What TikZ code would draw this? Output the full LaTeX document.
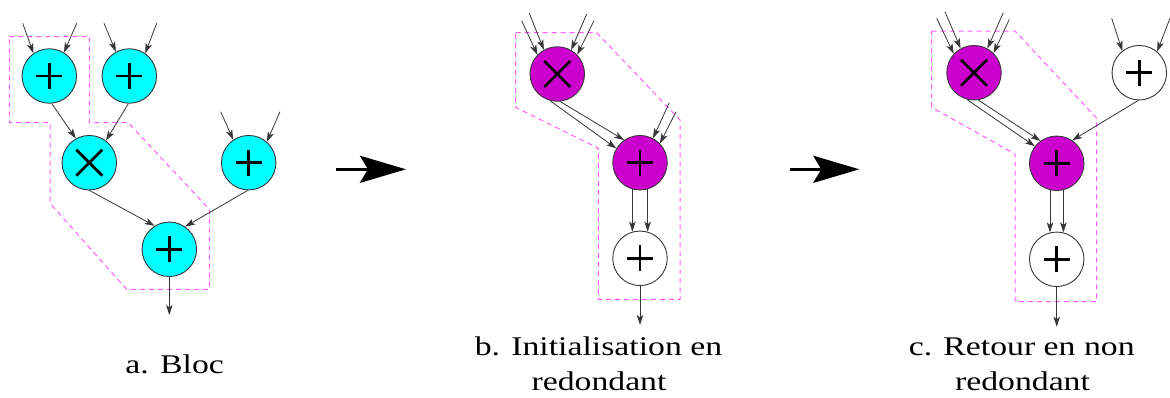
\documentclass[tikz,border=0pt]{standalone}
\usepackage{fontspec}
\setmainfont{Liberation Serif}[FakeStretch=1.25]
\usetikzlibrary{arrows.meta}
\definecolor{cyanop}{RGB}{0,255,255}
\definecolor{magop}{RGB}{204,0,204}
\definecolor{dashpink}{RGB}{255,90,255}
\definecolor{edgegray}{RGB}{55,55,55}
\tikzset{
  op/.style={circle, draw=edgegray, line width=0.9pt, minimum size=54.5pt, inner sep=0pt},
  plusop/.style={op, path picture={\draw[line width=2.7pt, black]
      ([xshift=-13pt]path picture bounding box.center) -- ([xshift=13pt]path picture bounding box.center)
      ([yshift=-13pt]path picture bounding box.center) -- ([yshift=13pt]path picture bounding box.center);}},
  timesop/.style={op, path picture={\draw[line width=2.7pt, black]
      ([shift={(-13pt,-13pt)}]path picture bounding box.center) -- ([shift={(13pt,13pt)}]path picture bounding box.center)
      ([shift={(-13pt,13pt)}]path picture bounding box.center) -- ([shift={(13pt,-13pt)}]path picture bounding box.center);}},
  conn/.style={draw=edgegray, line width=0.8pt, -{Stealth[length=10pt,width=6.5pt,inset=2.5pt]}},
  region/.style={draw=dashpink, line width=1pt, dash pattern=on 5pt off 4pt},
  bigarrow/.style={line width=3.3pt, -{Stealth[length=46pt,width=27pt,inset=8pt]}},
  lbl/.style={font=\fontsize{27}{35}\selectfont, anchor=base, inner sep=0pt},
}
\begin{document}
\begin{tikzpicture}[x=1pt,y=-1pt]
\useasboundingbox (0,0) rectangle (1170,397);
% dashed regions
\draw[region] (9.3,36.7) -- (89.3,36.7) -- (89.3,122.7) -- (128.3,122.7) -- (209.3,209.3) -- (209.3,289.3) -- (126.7,289.3) -- (50,203.3) -- (50,122.7) -- (9.3,122.7) -- cycle;
\draw[region] (515.7,32.7) -- (596.7,32.7) -- (680,120) -- (680,299.3) -- (598.3,299.3) -- (598.3,148.3) -- (515.7,107.3) -- cycle;
\draw[region] (931.7,31) -- (1015,31) -- (1096.7,118.3) -- (1096.7,301.7) -- (1015,301.7) -- (1015,154) -- (931.7,107.3) -- cycle;
% panel a
\node[plusop, fill=cyanop] (a1) at (49.3,76) {};
\node[plusop, fill=cyanop] (a2) at (129.3,76) {};
\node[timesop, fill=cyanop] (a3) at (89.3,162.7) {};
\node[plusop, fill=cyanop] (a4) at (248.7,162.7) {};
\node[plusop, fill=cyanop] (a5) at (169.3,249.3) {};
\coordinate (a1l) at (22.7,23.3);
\coordinate (a1r) at (76.7,23.3);
\coordinate (a2l) at (104,23.3);
\coordinate (a2r) at (156.7,23.3);
\coordinate (a4l) at (220.7,111.7);
\coordinate (a4r) at (280,111.7);
\coordinate (aout) at (169.3,315);
\draw[conn] (a1l) -- (a1.125);
\draw[conn] (a1r) -- (a1.58);
\draw[conn] (a2l) -- (a2.119);
\draw[conn] (a2r) -- (a2.55);
\draw[conn] (a4l) -- (a4.124);
\draw[conn] (a4r) -- (a4.49);
\draw[conn] (a1.-85) -- (a3.119);
\draw[conn] (a2.-92) -- (a3.53);
\draw[conn] (a3.-90) -- (a5.122);
\draw[conn] (a4.-92) -- (a5.55);
\draw[conn] (a5.-90) -- (aout);
% panel b
\node[timesop, fill=magop] (b1) at (557.3,74) {};
\node[plusop, fill=magop] (b2) at (640,162.7) {};
\node[plusop, fill=white] (b3) at (640,258.3) {};
\coordinate (b1la) at (521.7,20.7);
\coordinate (b1lb) at (529.3,13.3);
\coordinate (b1ra) at (586.7,14);
\coordinate (b1rb) at (594,20.7);
\coordinate (b2ra) at (669.3,102.7);
\coordinate (b2rb) at (676,111.7);
\coordinate (bout) at (640,325);
\draw[conn] (b1la) -- (b1.136);
\draw[conn] (b1lb) -- (b1.119);
\draw[conn] (b1ra) -- (b1.60);
\draw[conn] (b1rb) -- (b1.44);
\draw[conn] (b1.-105) -- (b2.149.5);
\draw[conn] (b1.-84) -- (b2.125.5);
\draw[conn] (b2ra) -- (b2.62);
\draw[conn] (b2rb) -- (b2.44);
\draw[conn] (b2.-106) -- (b3.106);
\draw[conn] (b2.-74) -- (b3.74);
\draw[conn] (b3.-90) -- (bout);
% panel c
\node[timesop, fill=magop] (c1) at (974,72.7) {};
\node[plusop, fill=white] (c2) at (1139.3,72.7) {};
\node[plusop, fill=magop] (c3) at (1056.7,163.3) {};
\node[plusop, fill=white] (c4) at (1056.7,259.3) {};
\coordinate (c1la) at (936.7,18.3);
\coordinate (c1lb) at (945,11.7);
\coordinate (c1ra) at (1003.3,12.7);
\coordinate (c1rb) at (1009.3,19.3);
\coordinate (c2l) at (1111.7,18.3);
\coordinate (c2r) at (1170,18.3);
\coordinate (cout) at (1056.7,326.7);
\draw[conn] (c1la) -- (c1.137);
\draw[conn] (c1lb) -- (c1.119.5);
\draw[conn] (c1ra) -- (c1.61);
\draw[conn] (c1rb) -- (c1.45);
\draw[conn] (c2l) -- (c2.128);
\draw[conn] (c2r) -- (c2.50);
\draw[conn] (c1.-105) -- (c3.142);
\draw[conn] (c1.-81) -- (c3.126);
\draw[conn] (c2.-92) -- (c3.56);
\draw[conn] (c3.-104) -- (c4.104);
\draw[conn] (c3.-76) -- (c4.76);
\draw[conn] (c4.-90) -- (cout);
% big arrows
\coordinate (ba1) at (336,169.3);
\coordinate (ba2) at (406,169.3);
\coordinate (bb1) at (790,169.3);
\coordinate (bb2) at (859.3,169.3);
\draw[bigarrow] (ba1) -- (ba2);
\draw[bigarrow] (bb1) -- (bb2);
% labels
\node[lbl] (la) at (174.7,373) {a. Bloc};
\node[lbl] (lb1) at (598.5,355) {b. Initialisation en};
\node[lbl] (lb2) at (599,390) {redondant};
\node[lbl] (lc1) at (1021.7,355) {c. Retour en non};
\node[lbl] (lc2) at (1022.5,390) {redondant};
\end{tikzpicture}
\end{document}
